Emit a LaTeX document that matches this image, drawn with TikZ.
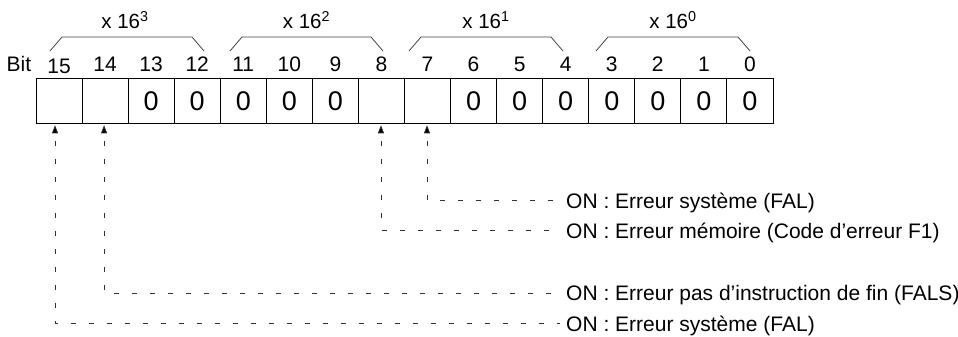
\documentclass[tikz,border=0pt]{standalone}
\usepackage{fontspec}
\setmainfont{Liberation Sans}
\usetikzlibrary{arrows.meta}
\begin{document}
\begin{tikzpicture}[x=1pt,y=-1pt,
  cell/.style={draw=black, line width=0.9pt, minimum width=46.06pt, minimum height=45pt, inner sep=0pt,
    font=\fontsize{27}{32}\selectfont, text height=19.3pt, text depth=0pt},
  bitlbl/.style={anchor=base, inner sep=0pt, font=\fontsize{21}{25}\selectfont},
  brk/.style={draw=black!75, line width=0.8pt},
  brklbl/.style={anchor=base, inner sep=0pt, font=\fontsize{20.5}{24}\selectfont},
  desc/.style={anchor=west, inner xsep=6pt, inner ysep=0pt, text height=15pt, text depth=0pt,
    font=\fontsize{21}{25}\selectfont},
  lead/.style={draw=black!80, line width=0.7pt, dash pattern=on 5pt off 13pt, dash phase=10pt,
    {Triangle[length=8pt,width=6pt,fill=black]}-}
]
\useasboundingbox (0,0) rectangle (958,337);
% cells
\foreach \b/\v in {15/,14/,13/0,12/0,11/0,10/0,9/0,8/,7/,6/0,5/0,4/0,3/0,2/0,1/0,0/0}{
  \node[cell] (c\b) at ({36+46.06*(15-\b)+23.03},100.8) {\v};
}
% bit labels
\node[bitlbl, anchor=base west] (bit) at (6.5,71.7) {Bit};
\node[bitlbl] (l15) at ({36+23.03},73.3) {15};
\foreach \b in {14,13,...,0}{
  \node[bitlbl] (l\b) at ({36+46.06*(15-\b)+23.03},71.7) {\b};
}
% brackets
\draw[brk] (50,51) -- (62,37) -- (192,37) -- (204,51);
\draw[brk] (230,51) -- (242,37) -- (371,37) -- (383,51);
\draw[brk] (409,51) -- (421,37) -- (551,37) -- (563,51);
\draw[brk] (596,51) -- (608,37) -- (738,37) -- (750,51);
\node[brklbl] (g3) at (125,29) {x 16\textsuperscript{3}};
\node[brklbl] (g2) at (306.5,29) {x 16\textsuperscript{2}};
\node[brklbl] (g1) at (486,29) {x 16\textsuperscript{1}};
\node[brklbl] (g0) at (673,29) {x 16\textsuperscript{0}};
% descriptions
\node[desc] (d1) at (560,200.5) {ON : Erreur système (FAL)};
\node[desc] (d2) at (560,230.5) {ON : Erreur mémoire (Code d’erreur F1)};
\node[desc] (d3) at (560,293) {ON : Erreur pas d’instruction de fin (FALS)};
\node[desc] (d4) at (560,323.5) {ON : Erreur système (FAL)};
% leaders
\draw[lead] ([xshift=-0.5pt,yshift=-1.5pt]c7.south) |- (d1.west);
\draw[lead] ([xshift=-0.5pt,yshift=-1.5pt]c8.south) |- (d2.west);
\draw[lead] ([xshift=-1pt,yshift=-1.5pt]c14.south) |- (d3.west);
\draw[lead] ([xshift=-4pt,yshift=-1.5pt]c15.south) |- (d4.west);
\end{tikzpicture}
\end{document}
